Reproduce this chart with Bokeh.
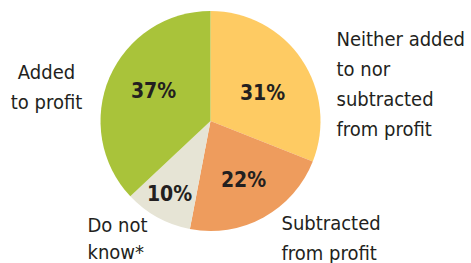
import math
from bokeh.plotting import figure
from bokeh.models import Range1d, ColumnDataSource
from bokeh.core.properties import value
from bokeh.embed import file_html
from bokeh.resources import INLINE

# Data (clockwise from 12 o'clock)
categories = ["Neither added\nto nor\nsubtracted\nfrom profit", "Subtracted\nfrom profit",
              "Do not\nknow*", "Added\nto profit"]
shares = [31, 22, 10, 37]
pct_labels = ["31%", "22%", "10%", "37%"]
colors = ["#FECB63", "#EE9C5D", "#E6E4D5", "#A9C33A"]

FONT = "DejaVu Sans Condensed, Roboto Condensed, Roboto, sans-serif"

W, H = 471, 263
p = figure(width=W, height=H, output_backend="svg", toolbar_location=None,
           x_range=Range1d(0, W), y_range=Range1d(0, H), min_border=0)
p.axis.visible = False
p.grid.visible = False
p.outline_line_color = None
p.background_fill_color = "white"
p.border_fill_color = "white"

cx, cy, r = 210, 142.5, 110
total = sum(shares)
starts, ends = [], []
acc = 0
for s in shares:
    starts.append(math.pi / 2 - 2 * math.pi * acc / total)
    acc += s
    ends.append(math.pi / 2 - 2 * math.pi * acc / total)

src = ColumnDataSource(dict(start=starts, end=ends, color=colors))
p.wedge(x=cx, y=cy, radius=r, start_angle="start", end_angle="end", direction="clock",
        fill_color="color", line_color=None, source=src)

# percentage labels (positions)
px = [262, 243, 169, 153]
py = [171, 84, 70, 173]
p.text(x=px, y=py, text=pct_labels, text_font=value(FONT),
       text_font_style="bold", text_font_size="21px", text_color="#231F20",
       text_align="center", text_baseline="middle")

# category labels (positions)
lx = [336, 281, 87, 46]
ly = [237, 53, 51, 204]
la = ["left", "left", "left", "center"]
lh = [1.25, 1.25, 1.15, 1.25]
lsrc = ColumnDataSource(dict(x=lx, y=ly, text=categories, align=la, lh=lh))
p.text(x="x", y="y", text="text", text_align="align", source=lsrc,
       text_font=value(FONT), text_font_size="20px",
       text_color="#231F20", text_baseline="top", text_line_height="lh")

open("out.html", "w").write(file_html(p, INLINE))
